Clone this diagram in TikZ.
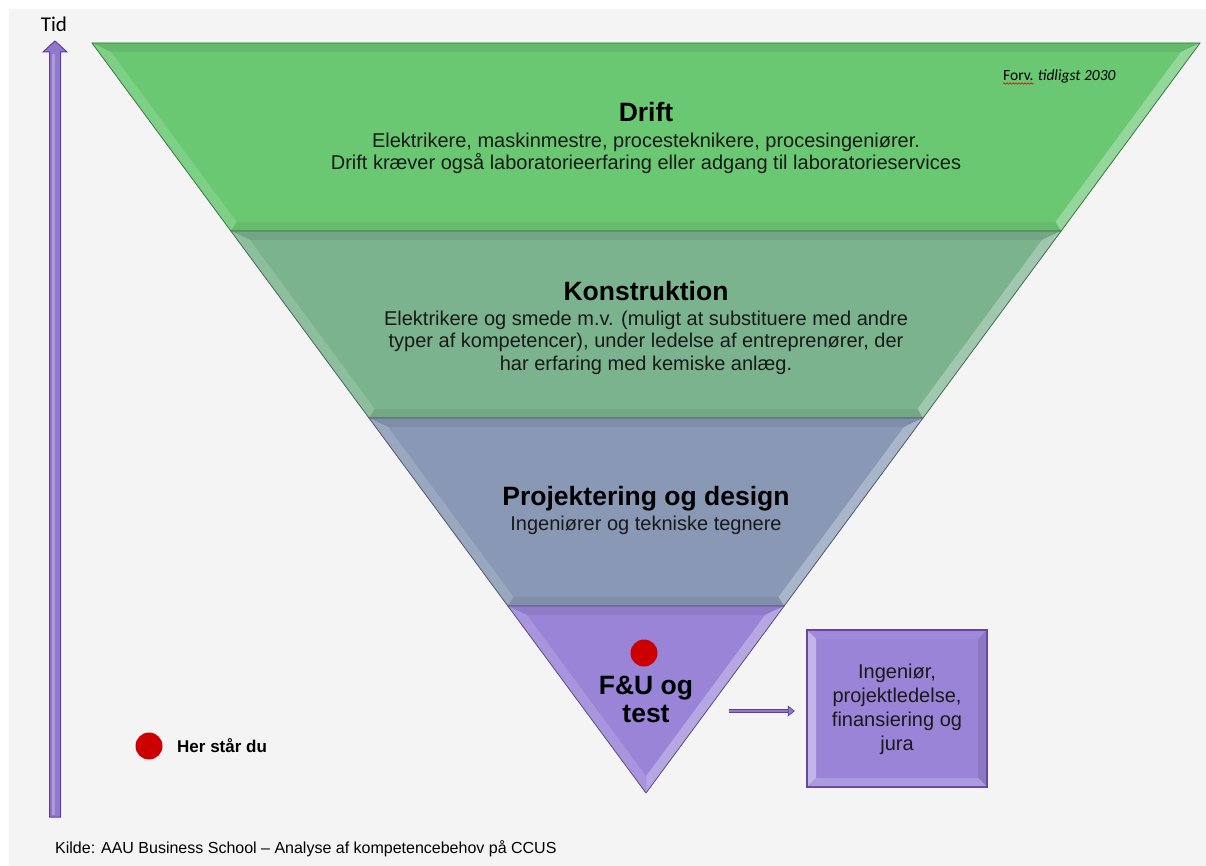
\documentclass[tikz,border=0pt]{standalone}
\usepackage{fontspec}
\setmainfont{Liberation Sans}
\newfontfamily\calib{Carlito}
\usetikzlibrary{arrows.meta,calc,decorations.pathmorphing}
\definecolor{bgc}{HTML}{F4F4F4}
\definecolor{cDrift}{HTML}{6AC873}
\definecolor{cKon}{HTML}{7AB38E}
\definecolor{cProj}{HTML}{8898B5}
\definecolor{cFU}{HTML}{9A84D8}
\definecolor{cEdge}{HTML}{5E3F9A}
\definecolor{cArrow}{HTML}{9079CC}
\definecolor{cRed}{HTML}{CC0000}
\newcommand\bandshape[4]{%
 \coordinate (oTL) at ({xl(#1)},#1);
 \coordinate (oTR) at ({xr(#1)},#1);
 \coordinate (oBR) at ({xr(#2)},#2);
 \coordinate (oBL) at ({xl(#2)},#2);
 \coordinate (iTL) at ({xl(#1+9)+12.4},#1+9);
 \coordinate (iTR) at ({xr(#1+9)-12.4},#1+9);
 \coordinate (iBR) at ({xr(#3)-12.4},#3);
 \coordinate (iBL) at ({xl(#3)+12.4},#3);
 \fill[#4] (oTL)--(oTR)--(oBR)--(oBL)--cycle;
 \fill[#4!93!black] (oTL)--(oTR)--(iTR)--(iTL)--cycle;
 \fill[#4!86!white] (oTL)--(iTL)--(iBL)--(oBL)--cycle;
 \fill[#4!72!white] (oTR)--(oBR)--(iBR)--(iTR)--cycle;
 \fill[#4!94!black] (oBL)--(iBL)--(iBR)--(oBR)--cycle;
 \draw[#4!60!black, line width=0.8] (oTL)--(oTR)--(oBR)--(oBL)--cycle;
}
\tikzset{
 headtxt/.style={inner sep=0, font=\fontsize{26.5}{28}\selectfont\bfseries},
 bodytxt/.style={inner sep=0, align=center, font=\fontsize{20}{22.3}\selectfont, text=black!90},
 dot/.style={circle, fill=cRed, inner sep=0, minimum size=27},
 conn/.style={draw=cEdge, line width=0.7pt, double=cArrow, double distance=2.4pt,
   -{Triangle[length=7pt,width=11pt,fill=cArrow]}, shorten >=11pt}
}
\begin{document}
\begin{tikzpicture}[x=1pt,y=-1pt,
  declare function={xl(\q)=92+(\q-43)*0.73867; xr(\q)=1200-(\q-43)*0.73867;}]
\useasboundingbox (0,0) rectangle (1206,866);
\fill[white] (0,0) rectangle (1206,866);
\fill[bgc] (9,9) rectangle (1206,866);

% time arrow
\draw[cEdge, line width=1, fill=cArrow, line join=miter]
  (49.5,817) -- (49.5,52) -- (43,52) -- (55,41) -- (67,52) -- (60.5,52) -- (60.5,817) -- cycle;
\fill[cArrow!75!white] (52,815) rectangle (54.5,54);
\node[inner sep=0, font=\calib\fontsize{21}{24}\selectfont] (tid) at (54,24) {Tid};

% funnel
\bandshape{43}{231}{222}{cDrift}
\bandshape{231}{418}{409}{cKon}
\bandshape{418}{606}{597}{cProj}
\bandshape{606}{793}{776}{cFU}

\node[headtxt] (drift) at (646,112) {Drift};
\node[bodytxt] (driftT) at (646,153) {Elektrikere, maskinmestre, procesteknikere, procesingeniører.\\Drift kræver også laboratorieerfaring eller adgang til laboratorieservices};
\node[inner sep=0, anchor=base west, font=\calib\fontsize{15.5}{18}\selectfont] (forv) at (1003,81) {Forv.};
\node[inner sep=0, anchor=base west, font=\calib\itshape\fontsize{15.5}{18}\selectfont] (tidl) at ($(forv.base east)+(4,0)$) {tidligst 2030};
\draw[red!80!black, line width=0.5, decorate, decoration={snake, amplitude=0.7pt, segment length=3pt}]
  ($(forv.base west)+(0,2.5)$) -- ($(forv.base east)+(0,2.5)$);

\node[headtxt] (kon) at (646,291) {Konstruktion};
\node[bodytxt, font=\fontsize{20}{22.5}\selectfont] (konT) at (646,342.5) {Elektrikere og smede m.v. (muligt at substituere med andre\\typer af kompetencer), under ledelse af entreprenører, der\\har erfaring med kemiske anlæg.};

\node[headtxt] (proj) at (646,499) {Projektering og design};
\node[bodytxt] (projT) at (646,525.5) {Ingeniører og tekniske tegnere};

\node[dot] (here) at (644,653) {};
\node[headtxt, align=center, font=\fontsize{26.5}{28}\selectfont\bfseries] (fu) at (646,699) {F\&U og\\test};

% side box
\fill[cEdge!90!cFU] (806,629) rectangle (988,788);
\fill[cFU] (808,631) rectangle (986,786);
\fill[cFU!95!white] (808,631) -- (986,631) -- (978,639) -- (816,639) -- cycle;
\fill[cFU!60!white] (808,631) -- (816,639) -- (816,778) -- (808,786) -- cycle;
\fill[cFU!90!black] (986,631) -- (986,786) -- (978,778) -- (978,639) -- cycle;
\fill[cFU!82!white] (808,786) -- (816,778) -- (978,778) -- (986,786) -- cycle;
\node[inner sep=0, minimum width=182, minimum height=159, align=center,
  font=\fontsize{20}{24}\selectfont, text=black!90] (box) at (897,709.5)
  {Ingeniør,\\projektledelse,\\finansiering og\\jura};

\coordinate (fuR) at (729,711);
\draw[conn] (fuR) -- (box.west |- fuR);

% legend
\node[dot] (legdot) at (149,746) {};
\node[inner sep=0, anchor=west, font=\fontsize{17}{20}\selectfont\bfseries] (legtxt) at (177,746) {Her står du};

\node[inner sep=0, anchor=west, font=\fontsize{16}{19}\selectfont] (kilde) at (55,849) {Kilde: AAU Business School – Analyse af kompetencebehov på CCUS};
\end{tikzpicture}
\end{document}
